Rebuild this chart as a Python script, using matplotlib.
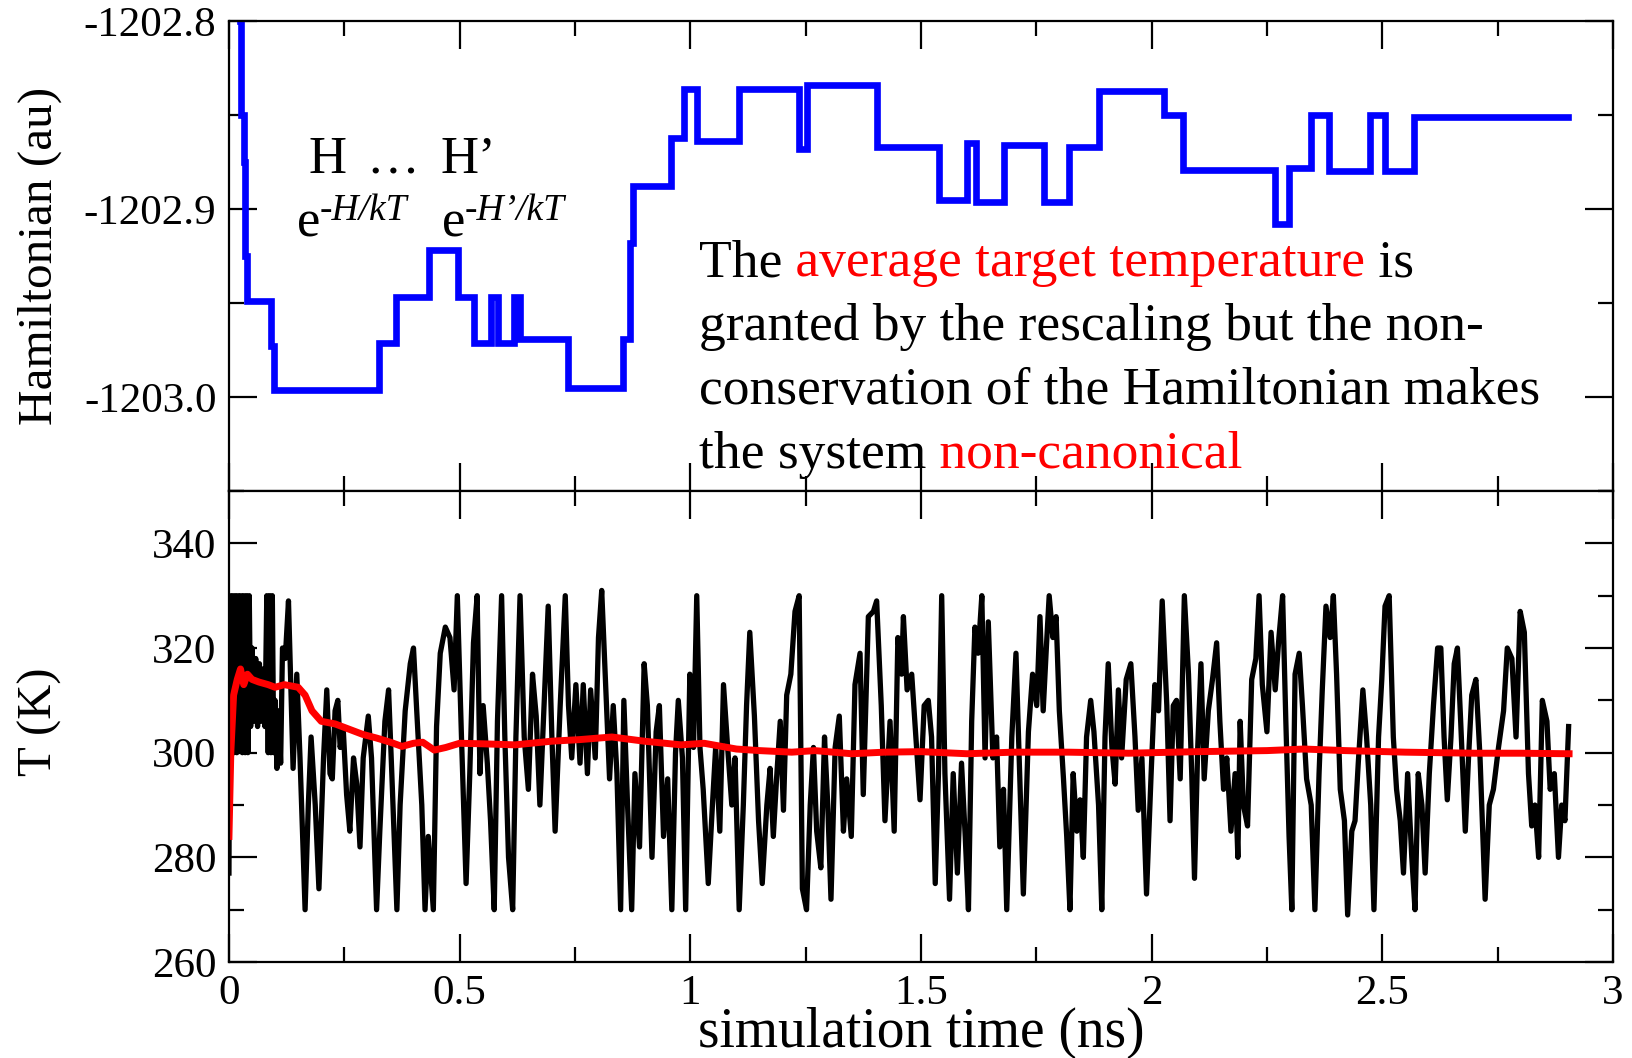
import numpy as np
import matplotlib
matplotlib.use('Agg')
import matplotlib.pyplot as plt
from matplotlib.ticker import MultipleLocator, FuncFormatter

plt.rcParams['font.family'] = ['Liberation Serif', 'DejaVu Serif']
plt.rcParams['axes.unicode_minus'] = False

### Hamiltonian steps (ns, au) - level holds until next time
H_time = [0.024, 0.027, 0.032, 0.035, 0.040, 0.092, 0.097, 0.325, 0.363, 0.434,
          0.497, 0.532, 0.569, 0.583, 0.617, 0.631, 0.734, 0.855, 0.870, 0.875,
          0.958, 0.986, 1.014, 1.105, 1.236, 1.252, 1.405, 1.540, 1.600, 1.620,
          1.680, 1.766, 1.820, 1.885, 2.027, 2.068, 2.268, 2.297, 2.345, 2.385,
          2.473, 2.507, 2.568, 2.903]
H_level = [-1202.800, -1202.850, -1202.875, -1202.925, -1202.949, -1202.973, -1202.996, -1202.971, -1202.947, -1202.922,
           -1202.947, -1202.971, -1202.947, -1202.971, -1202.947, -1202.969, -1202.995, -1202.969, -1202.918, -1202.888,
           -1202.862, -1202.836, -1202.864, -1202.836, -1202.868, -1202.834, -1202.867, -1202.895, -1202.865, -1202.896,
           -1202.866, -1202.896, -1202.867, -1202.837, -1202.850, -1202.879, -1202.908, -1202.878, -1202.850, -1202.880,
           -1202.850, -1202.880, -1202.851, -1202.851]

### instantaneous temperature (ns, K)
T_time = [
    0.000, 0.002, 0.005, 0.008, 0.011, 0.014, 0.017, 0.020, 0.023, 0.026,
    0.029, 0.032, 0.035, 0.038, 0.041, 0.044, 0.047, 0.050, 0.054, 0.058,
    0.062, 0.066, 0.070, 0.074, 0.078, 0.082, 0.085, 0.088, 0.091, 0.094,
    0.097, 0.100, 0.104, 0.108, 0.112, 0.116, 0.122, 0.129, 0.139, 0.147,
    0.154, 0.165, 0.172, 0.178, 0.187, 0.195, 0.205, 0.212, 0.219, 0.224,
    0.230, 0.236, 0.241, 0.248, 0.255, 0.262, 0.270, 0.277, 0.284, 0.291,
    0.302, 0.309, 0.320, 0.327, 0.338, 0.346, 0.353, 0.364, 0.371, 0.382,
    0.393, 0.400, 0.407, 0.418, 0.425, 0.432, 0.443, 0.450, 0.458, 0.469,
    0.479, 0.488, 0.495, 0.504, 0.514, 0.522, 0.530, 0.538, 0.544, 0.551,
    0.560, 0.567, 0.575, 0.582, 0.591, 0.598, 0.606, 0.615, 0.622, 0.631,
    0.640, 0.649, 0.658, 0.666, 0.674, 0.683, 0.692, 0.700, 0.707, 0.718,
    0.729, 0.736, 0.743, 0.752, 0.761, 0.768, 0.777, 0.784, 0.794, 0.801,
    0.808, 0.817, 0.825, 0.833, 0.841, 0.849, 0.856, 0.864, 0.873, 0.880,
    0.890, 0.900, 0.907, 0.917, 0.926, 0.933, 0.942, 0.951, 0.960,
    0.968, 0.974, 0.983, 0.990, 0.999, 1.007, 1.014, 1.021, 1.028, 1.039,
    1.048, 1.055, 1.064, 1.072, 1.081, 1.090, 1.097, 1.106, 1.115, 1.122,
    1.129, 1.139, 1.148, 1.156, 1.166, 1.173, 1.180, 1.187, 1.195, 1.202,
    1.209, 1.218, 1.227, 1.236, 1.243, 1.252, 1.260, 1.267, 1.274, 1.283,
    1.291, 1.298, 1.305, 1.314, 1.323, 1.332, 1.339, 1.349, 1.357, 1.368,
    1.375, 1.386, 1.397, 1.404, 1.414, 1.422, 1.433, 1.442, 1.450,
    1.458, 1.462, 1.470, 1.480, 1.489, 1.498, 1.507, 1.516, 1.523, 1.531,
    1.538, 1.545, 1.552, 1.562, 1.570, 1.579, 1.588, 1.596, 1.603, 1.610,
    1.617, 1.624, 1.632, 1.639, 1.646, 1.656, 1.664, 1.671, 1.679, 1.686,
    1.697, 1.706, 1.713, 1.722, 1.733, 1.742, 1.751, 1.758, 1.765, 1.773,
    1.778, 1.786, 1.793, 1.800, 1.809, 1.816, 1.823, 1.830, 1.838, 1.845,
    1.852, 1.859, 1.868, 1.875, 1.885, 1.892, 1.899, 1.906, 1.914, 1.921,
    1.928, 1.935,
    1.945, 1.955, 1.964, 1.971, 1.979, 1.989, 1.999, 2.007, 2.015, 2.023,
    2.033, 2.040, 2.047, 2.054, 2.062, 2.071, 2.080, 2.087, 2.093, 2.100,
    2.107, 2.114, 2.123, 2.132, 2.141, 2.148, 2.156, 2.163, 2.172, 2.181,
    2.187, 2.192, 2.199, 2.208, 2.217, 2.226, 2.233, 2.240, 2.250, 2.259,
    2.268, 2.276, 2.284, 2.291, 2.298, 2.304, 2.311, 2.320, 2.327, 2.336,
    2.346, 2.354, 2.363, 2.370, 2.378, 2.387, 2.394, 2.401, 2.409, 2.418,
    2.425,
    2.434, 2.441, 2.448, 2.458, 2.466, 2.475, 2.482, 2.492, 2.499, 2.506,
    2.515, 2.524, 2.531, 2.539, 2.546, 2.555, 2.564, 2.571, 2.578, 2.586,
    2.593, 2.602, 2.611, 2.620, 2.627, 2.634, 2.641, 2.649, 2.656, 2.663,
    2.670, 2.680, 2.687, 2.694, 2.703, 2.712, 2.723, 2.732, 2.741, 2.752,
    2.763, 2.771, 2.781, 2.790, 2.799, 2.808, 2.817, 2.824, 2.831, 2.839,
    2.847, 2.857, 2.864, 2.873, 2.882, 2.889, 2.896, 2.904]
T_inst = [
    277, 330, 300, 330, 300, 330, 300, 330, 301, 330,
    300, 330, 300, 330, 300, 330, 305, 320, 306, 318,
    305, 317, 306, 316, 305, 330, 300, 330, 300, 330,
    300, 310, 297, 308, 298, 320, 318, 329, 297, 315,
    299, 270, 290, 303, 290, 274, 299, 312, 296, 295,
    308, 310, 301, 304, 292, 285, 299, 294, 282, 299,
    307, 299, 270, 285, 306, 312, 296, 270, 290, 308,
    317, 320, 308, 290, 270, 284, 270, 305, 319, 324,
    322, 312, 330, 303, 275, 296, 321, 330, 296, 309,
    298, 287, 270, 306, 330, 303, 280, 270, 303, 330,
    303, 293, 315, 307, 290, 309, 328, 303, 285, 309,
    330, 309, 299, 313, 298, 313, 296, 312, 299, 322,
    331, 312, 295, 309, 296, 270, 310, 290, 270, 296,
    282, 317, 309, 280, 304, 309, 284, 295, 270,
    300, 310, 299, 270, 315, 301, 330, 301, 293, 275,
    290, 301, 285, 313, 301, 290, 299, 270, 290, 309,
    323, 307, 287, 275, 290, 297, 284, 295, 306, 289,
    311, 315, 327, 330, 274, 270, 290, 301, 285, 278,
    303, 290, 272, 301, 307, 285, 295, 284, 313, 319,
    292, 326, 327, 329, 309, 287, 306, 285, 322,
    315, 326, 312, 315, 303, 291, 309, 310, 303, 275,
    296, 330, 296, 272, 296, 277, 298, 284, 270, 306,
    324, 319, 330, 299, 325, 299, 303, 282, 293, 270,
    303, 319, 299, 273, 304, 315, 309, 326, 308, 322,
    330, 322, 326, 308, 295, 284, 270, 296, 285, 291,
    280, 303, 310, 304, 290, 270, 303, 317, 301, 294,
    312, 299,
    314, 317, 303, 289, 299, 273, 296, 313, 308, 329,
    309, 287, 309, 310, 295, 330, 315, 296, 276, 301,
    317, 295, 308, 314, 321, 306, 293, 299, 285, 296,
    280, 306, 290, 286, 314, 318, 330, 313, 304, 323,
    312, 322, 330, 306, 284, 270, 315, 319, 309, 295,
    290, 270, 296, 312, 328, 322, 330, 315, 293, 287,
    269,
    285, 287, 298, 312, 303, 290, 270, 303, 314, 328,
    330, 303, 293, 287, 277, 296, 280, 270, 296, 290,
    277, 296, 309, 320, 320, 303, 291, 303, 317, 320,
    306, 285, 299, 311, 314, 299, 272, 290, 293, 301,
    308, 320, 318, 303, 327, 323, 296, 286, 290, 280,
    310, 306, 293, 296, 280, 290, 287, 305]

### running average temperature (ns, K)
avg_time = [0.000, 0.004, 0.010, 0.018, 0.025, 0.032, 0.040, 0.050, 0.065, 0.085,
            0.100, 0.120, 0.150, 0.165, 0.180, 0.200, 0.230, 0.260, 0.290, 0.320,
            0.350, 0.375, 0.400, 0.420, 0.445, 0.470, 0.500, 0.550, 0.620, 0.700,
            0.760, 0.830, 0.900, 0.980, 1.030, 1.100, 1.150, 1.220, 1.270, 1.350,
            1.420, 1.500, 1.600, 1.700, 1.820, 1.950, 2.100, 2.250, 2.330, 2.420,
            2.550, 2.700, 2.800, 2.905]
avg_T = [284, 300, 311, 314, 316, 313, 315, 314, 313.5, 313,
         312.5, 313, 312.5, 311, 308, 306, 305.5, 304.5, 303.5, 302.8,
         302, 301.2, 301.8, 302, 300.5, 301, 301.8, 301.7, 301.5, 302.2,
         302.5, 303, 302.2, 301.5, 301.8, 300.7, 300.4, 300.1, 300.4, 299.8,
         300.1, 300.2, 299.8, 300.1, 300.1, 299.9, 300.2, 300.4, 300.7, 300.4,
         300.1, 299.9, 299.9, 299.8]

fig = plt.figure(figsize=(16.32, 10.58), dpi=100)
ax1 = fig.add_axes([0.1403, 0.5359, 0.8480, 0.4442])
ax2 = fig.add_axes([0.1403, 0.0907, 0.8480, 0.4452], sharex=ax1)

### top: Hamiltonian
ax1.step(H_time, H_level, where='post', color='#0000ff', lw=4.8, solid_joinstyle='miter')
ax1.set_ylim(-1203.05, -1202.8)
ax1.yaxis.set_major_locator(MultipleLocator(0.1))
ax1.yaxis.set_minor_locator(MultipleLocator(0.05))
ax1.yaxis.set_major_formatter(FuncFormatter(lambda v, p: '%.1f' % v))

### bottom: temperature
ax2.plot(T_time, T_inst, color='black', lw=3.8)
ax2.plot(avg_time, avg_T, color='#ff0000', lw=5)
ax2.set_ylim(260, 350)
ax2.set_xlim(0, 3)
ax2.yaxis.set_major_locator(MultipleLocator(20))
ax2.yaxis.set_minor_locator(MultipleLocator(10))
ax2.xaxis.set_major_locator(MultipleLocator(0.5))
ax2.xaxis.set_minor_locator(MultipleLocator(0.25))
ax2.xaxis.set_major_formatter(FuncFormatter(lambda v, p: '%g' % v))

for ax in (ax1, ax2):
    for s in ax.spines.values():
        s.set_linewidth(1.6)
    ax.tick_params(which='both', direction='in', top=True, right=True, width=1.6,
                   labelsize=31, pad=9)
    ax.tick_params(which='major', length=20)
    ax.tick_params(which='minor', length=11)
ax1.tick_params(labelbottom=False)

### axis titles
fig.text(40 / 1632, 1 - 256 / 1058, 'Hamiltonian (au)', rotation=90,
         ha='center', va='center', fontsize=35.5)
fig.text(40 / 1632, 1 - 722 / 1058, 'T (K)', rotation=90,
         ha='center', va='center', fontsize=35)
fig.text(921 / 1632, 1 - 1047 / 1058, 'simulation time (ns)',
         ha='center', va='baseline', fontsize=40)

### H ... H' labels
ax1.text(0.0574, 0.676, 'H', transform=ax1.transAxes, fontsize=38, va='baseline')
ax1.text(0.0994, 0.676, '\u2026', transform=ax1.transAxes, fontsize=38, va='baseline')
ax1.text(0.1525, 0.676, 'H\u2019', transform=ax1.transAxes, fontsize=38, va='baseline')
ax1.text(0.0493, 0.541, 'e', transform=ax1.transAxes, fontsize=38, va='baseline')
ax1.text(0.0655, 0.5766, '-H/kT', transform=ax1.transAxes, fontsize=27,
         style='italic', va='baseline')
ax1.text(0.1542, 0.541, 'e', transform=ax1.transAxes, fontsize=38, va='baseline')
ax1.text(0.1703, 0.5766, '-H\u2019/kT', transform=ax1.transAxes, fontsize=27,
         style='italic', va='baseline')

### message, with red pieces
lines = [
    [('The', 'black'), (' average target temperature', 'red'), (' is', 'black')],
    [('granted by the rescaling but the non-', 'black')],
    [('conservation of the Hamiltonian makes', 'black')],
    [('the system', 'black'), (' non-canonical', 'red')],
]
line_y = [0.457, 0.321, 0.185, 0.049]
for parts, y in zip(lines, line_y):
    t = ax1.text(0.3396, y, parts[0][0], color=parts[0][1], transform=ax1.transAxes,
                 fontsize=38.5, va='baseline')
    for s, c in parts[1:]:
        t = ax1.annotate(s, xy=(1, 0), xycoords=t, va='bottom', ha='left',
                         color=c, fontsize=38.5)

fig.savefig('out.png', dpi=100)
